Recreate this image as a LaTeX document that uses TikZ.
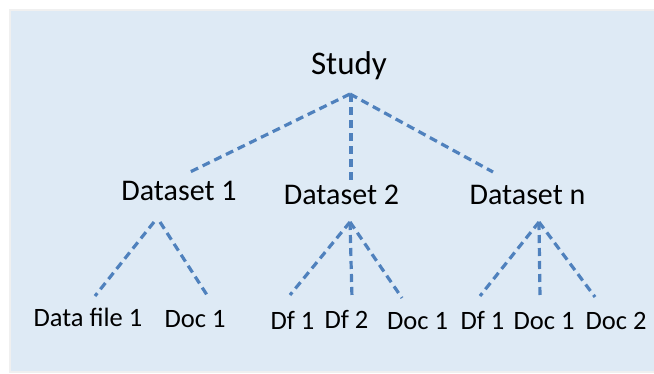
\documentclass[tikz,border=0pt]{standalone}
\usepackage{fontspec}
\setmainfont{Carlito}
\definecolor{linkblue}{RGB}{79,129,189}
\definecolor{panelblue}{RGB}{222,234,245}
\tikzset{
  link/.style={draw=linkblue, line width=3.2pt, dash pattern=on 8pt off 5pt},
  top/.style={anchor=base, inner sep=0pt, font=\fontsize{33}{36}\selectfont},
  mid/.style={anchor=base, inner sep=0pt, font=\fontsize{30}{33}\selectfont},
  leaf/.style={anchor=base, inner sep=0pt, font=\fontsize{26.5}{29}\selectfont}
}

\begin{document}
\begin{tikzpicture}[x=1pt,y=-1pt]
\useasboundingbox (0,0) rectangle (654,373);
\fill[white] (0,0) rectangle (654,373);
\fill[panelblue, draw=gray!12, line width=1.5pt] (10,10) rectangle (656,372);

% labels
\node[top] (study) at (349,74) {Study};
\node[mid] (dsa) at (179,200) {Dataset 1};
\node[mid] (dsb) at (341.5,204) {Dataset 2};
\node[mid] (dsn) at (527.5,204) {Dataset n};
\node[leaf] (dfa) at (88,326) {Data file 1};
\node[leaf] (doca) at (195,327) {Doc 1};
\node[leaf] (dfba) at (292.5,329) {Df 1};
\node[leaf] (dfbb) at (346.5,328) {Df 2};
\node[leaf] (docb) at (417.5,329) {Doc 1};
\node[leaf] (dfna) at (482.5,329) {Df 1};
\node[leaf] (docna) at (544,329) {Doc 1};
\node[leaf] (docnb) at (616,329) {Doc 2};

% ends of the links
\coordinate (study-foot) at (350,94);
\coordinate (dsa-head) at (190,172);
\coordinate (dsb-head) at (351,183);
\coordinate (dsn-head) at (493,172);
\coordinate (dsa-footl) at (154,222);
\coordinate (dsa-footr) at (160,222);
\coordinate (dsb-foot) at (350,222);
\coordinate (dsn-foot) at (539,222);
\coordinate (dfa-head) at (95,296);
\coordinate (doca-head) at (207,295);
\coordinate (dfba-head) at (290,295);
\coordinate (dfbb-head) at (352,298);
\coordinate (docb-head) at (402,298);
\coordinate (dfna-head) at (480,296);
\coordinate (docna-head) at (540,298);
\coordinate (docnb-head) at (595,297);

\foreach \x in {dsa,dsn}
\draw[link] (study-foot) -- (\x-head);
\draw[link] (351,94) -- (dsb-head);
\draw[link] (dsa-footl) -- (dfa-head);
\draw[link] (dsa-footr) -- (doca-head);
\foreach \x in {dfba,dfbb,docb}
\draw[link] (dsb-foot) -- (\x-head);
\foreach \x in {dfna,docna,docnb}
\draw[link] (dsn-foot) -- (\x-head);
\end{tikzpicture}
\end{document}
